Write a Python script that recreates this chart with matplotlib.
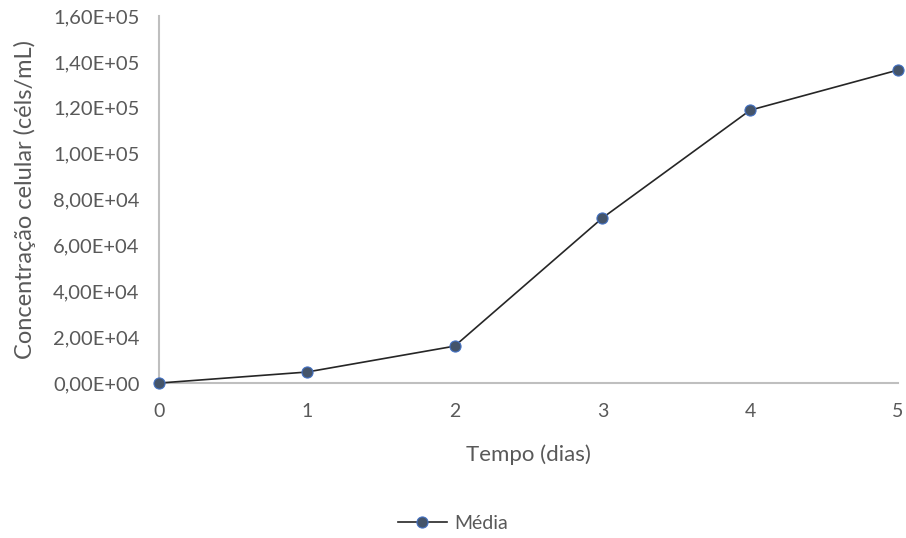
import matplotlib.pyplot as plt
from matplotlib.ticker import FuncFormatter

plt.rcParams['font.family'] = ['Lato', 'DejaVu Sans']

dias = [0, 1, 2, 3, 4, 5]
media = [0, 4800, 16100, 72000, 119000, 136500]
yticks = [0, 20000, 40000, 60000, 80000, 100000, 120000, 140000, 160000]

gray = '#595959'

fig = plt.figure(figsize=(9.06, 5.38), dpi=100)
ax = fig.add_axes([0.1755, 0.288, 0.8157, 0.682])

ax.plot(dias, media, color='#262626', lw=1.2, marker='o', markersize=8,
        markerfacecolor='#44546A', markeredgecolor='#4472C4', markeredgewidth=0.8,
        label='Média', clip_on=False, zorder=3)

ax.set_xlim(0, 5)
ax.set_ylim(0, 160000)
ax.set_xticks(dias)
ax.set_yticks(yticks)
ax.yaxis.set_major_formatter(FuncFormatter(lambda v, p: f'{v:.2E}'.replace('.', ',')))

for s in ['top', 'right']:
    ax.spines[s].set_visible(False)
for s in ['left', 'bottom']:
    ax.spines[s].set_color('#BFBFBF')
    ax.spines[s].set_linewidth(1.5)

ax.tick_params(axis='y', length=0, labelsize=14.5, colors=gray, pad=14)
ax.tick_params(axis='x', length=0, labelsize=14, colors=gray, pad=14)
ax.set_xlabel('Tempo (dias)', fontsize=16, color=gray, labelpad=18)
ax.set_ylabel('Concentração celular (céls/mL)', fontsize=17, color=gray, labelpad=12)

leg = fig.legend(loc='center', bbox_to_anchor=(0.5, 0.027), frameon=False,
                 fontsize=14, handlelength=2.5, handletextpad=0.4)
for t in leg.get_texts():
    t.set_color(gray)

fig.savefig('out.png', dpi=100)
